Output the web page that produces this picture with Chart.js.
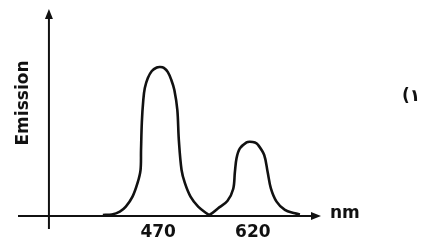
<!DOCTYPE html>
<html>
<head>
<meta charset="utf-8">
<script src="https://cdn.jsdelivr.net/npm/chart.js@4/dist/chart.umd.min.js"></script>
<style>
html,body{margin:0;padding:0;background:#fff;}
#wrap{width:426px;height:242px;position:relative;}
</style>
</head>
<body>
<div id="wrap"><canvas id="c" width="426" height="242"></canvas></div>
<script>
// Data
const wavelengths = [382.4, 396.6, 409.3, 418.8, 429.4, 437.4, 442.1, 442.9, 444.2, 446.5, 448.9, 453.7, 460.0, 467.9, 473.5, 479.0, 485.4, 490.9, 495.7, 500.4, 502.8, 507.1, 512.3, 521.3, 533.4, 546.7, 551.5,
                     564.6, 579.7, 588.9, 591.6, 594.2, 599.5, 610.1, 615.3, 623.3, 628.5, 638.0, 643.4, 648.6, 657.6, 670.8, 686.7, 694.6];
const emission    = [0.5,   0.7,   2.1,   4.5,   9.3,   15.9,  22.1,  31.7,  45.2,  55.8,  61.5,  66.3,  69.7,  71.4,  71.6,  71.2,  69.2,  65.4,  60.6,  51.0,  36.5,  22.1,  15.9,  9.3,   4.5,   1.3,   0.6,
                     3.6,   7.2,   13.0,  21.2,  27.8,  32.5,  35.4,  35.7,  35.3,  34.1,  29.3,  21.3,  13.3,  6.9,   2.9,   1.3,   0.7];
const tickValues  = [470, 620];
const xTitle = 'nm';
const yTitle = 'Emission';
const sideNote = '(۱';
const X_MIN = 248, X_MAX = 728, Y_AXIS_AT = 297, Y_MIN = 0, Y_MAX = 100;

const FONT = 'bold 17px "DejaVu Sans"';

const axesPlugin = {
  id: 'axesPlugin',
  beforeDatasetsDraw(chart) {
    const ctx = chart.ctx;
    const xs = chart.scales.x, ys = chart.scales.y;
    const x0 = xs.getPixelForValue(Y_AXIS_AT);
    const yBase = ys.getPixelForValue(0);
    const left = xs.left, right = xs.right;
    const top = ys.top;
    ctx.save();
    ctx.strokeStyle = '#111';
    ctx.fillStyle = '#111';
    ctx.lineWidth = 2;
    // x axis
    ctx.beginPath();
    ctx.moveTo(left, yBase);
    ctx.lineTo(right - 8, yBase);
    ctx.stroke();
    ctx.beginPath();
    ctx.moveTo(right, yBase);
    ctx.lineTo(right - 10, yBase - 4);
    ctx.lineTo(right - 10, yBase + 4);
    ctx.closePath();
    ctx.fill();
    // y axis
    ctx.beginPath();
    ctx.moveTo(x0, yBase + 13);
    ctx.lineTo(x0, top + 8);
    ctx.stroke();
    ctx.beginPath();
    ctx.moveTo(x0, top + 1);
    ctx.lineTo(x0 - 4, top + 11);
    ctx.lineTo(x0 + 4, top + 11);
    ctx.closePath();
    ctx.fill();
    ctx.restore();
  },
  afterDraw(chart) {
    const ctx = chart.ctx;
    const xs = chart.scales.x, ys = chart.scales.y;
    const yBase = ys.getPixelForValue(0);
    ctx.save();
    ctx.fillStyle = '#111';
    ctx.font = FONT;
    // x title
    ctx.textAlign = 'left';
    ctx.textBaseline = 'middle';
    ctx.fillText(xTitle, xs.right + 9, yBase - 2);
    // y title
    ctx.save();
    ctx.translate(23.5, (ys.top + yBase) / 2 - 9);
    ctx.rotate(-Math.PI / 2);
    ctx.textAlign = 'center';
    ctx.textBaseline = 'middle';
    ctx.fillText(yTitle, 0, 0);
    ctx.restore();
    // side note
    ctx.font = 'bold 17px "DejaVu Sans"';
    ctx.textAlign = 'left';
    ctx.textBaseline = 'middle';
    ctx.direction = 'ltr';
    ctx.fillText(sideNote, 402, 97);
    ctx.restore();
  }
};

new Chart(document.getElementById('c'), {
  type: 'line',
  data: {
    datasets: [{
      data: wavelengths.map((w, i) => ({ x: w, y: emission[i] })),
      borderColor: '#111',
      borderWidth: 2.6,
      pointRadius: 0,
      fill: false,
      tension: 0.35
    }]
  },
  options: {
    responsive: false,
    animation: false,
    events: [],
    layout: { padding: { left: 18, right: 105, top: 8, bottom: 0 } },
    plugins: { legend: { display: false }, tooltip: { enabled: false } },
    scales: {
      x: {
        type: 'linear',
        min: X_MIN, max: X_MAX,
        grid: { display: false, drawTicks: false, tickLength: 0 },
        border: { display: false },
        afterBuildTicks(scale) { scale.ticks = tickValues.map(v => ({ value: v })); },
        afterFit(scale) { scale.height = 26; },
        ticks: {
          autoSkip: false,
          maxRotation: 0,
          padding: 6,
          color: '#111',
          font: { family: 'DejaVu Sans', size: 17, weight: 'bold' },
          callback: v => String(v)
        }
      },
      y: {
        display: false,
        min: Y_MIN, max: Y_MAX
      }
    }
  },
  plugins: [axesPlugin]
});
</script>
</body>
</html>
